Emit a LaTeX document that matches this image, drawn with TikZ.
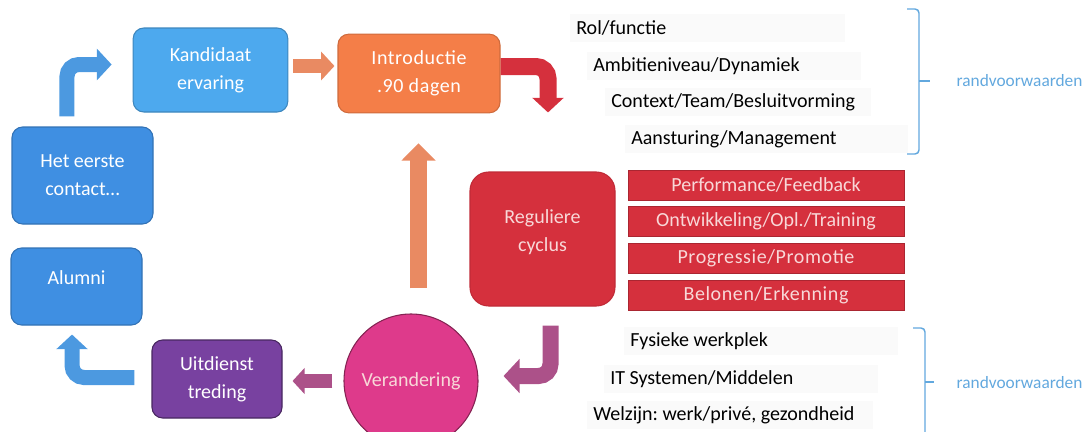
\documentclass[tikz,border=0pt]{standalone}
\usepackage{fontspec}
\setmainfont{Carlito}
\usepackage{tikz}
\usetikzlibrary{arrows.meta,calc}
\definecolor{lblue}{HTML}{4DA9EE}
\definecolor{mblue}{HTML}{3F8FE2}
\definecolor{ablue}{HTML}{4C99E0}
\definecolor{orng}{HTML}{F47E48}
\definecolor{aorng}{HTML}{E98A62}
\definecolor{rd}{HTML}{D5303D}
\definecolor{prpl}{HTML}{7841A0}
\definecolor{aprpl}{HTML}{AC5189}
\definecolor{mgnt}{HTML}{DE3A8B}
\definecolor{brc}{HTML}{62A8DE}
\definecolor{pinktxt}{HTML}{F8D8D8}

\begin{document}
\begin{tikzpicture}
  [x=0.75pt,y=-0.75pt,
   every node/.style={font=\fontsize{15}{21}\selectfont},
   box/.style={rectangle,rounded corners=8pt,align=center,text=white,line width=0.8pt},
   row/.style={anchor=west,fill=black!2,minimum height=21pt,inner xsep=4.5pt,align=flush left,font=\fontsize{15}{21}\selectfont\frenchspacing},
   bar/.style={fill=rd,draw=rd!80!black,line width=0.6pt,minimum width=207pt,minimum height=22.5pt,inner sep=0pt,text=pinktxt},
   brace/.style={brc,line width=1.1pt,rounded corners=3pt},
   flow/.style={line width=11.25pt,rounded corners=9pt,-{Triangle[length=11pt,width=23pt]}}]
  \useasboundingbox (0,0) rectangle (1086,432);

  \node[box,fill=lblue,draw=lblue!80!black,minimum width=116pt,minimum height=63pt] (kand) at (210.5,70) {Kandidaat\\ervaring};
  \node[box,fill=orng,draw=orng!85!black,minimum width=121.5pt,minimum height=59pt,font={\fontsize{15}{21}\selectfont\addfontfeature{LetterSpace=3}}] (intro) at (419,73.5) {Introductie\\.90 dagen};
  \node[box,fill=mblue,draw=mblue!80!black,minimum width=105.75pt,minimum height=72.75pt] (het) at (82.5,175.5) {Het eerste\\contact…};
  \node[box,fill=mblue,draw=mblue!80!black,minimum width=98.25pt,minimum height=57.75pt,text depth=14pt] (alumni) at (76.5,286.5) {Alumni};
  \node[box,fill=prpl,draw=prpl!60!black,minimum width=97.5pt,minimum height=58.5pt] (uit) at (217,379) {Uitdienst\\treding};
  \node[circle,fill=mgnt,draw=mgnt!60!black,line width=0.8pt,minimum size=100.5pt,text=pinktxt] (ver) at (411,381) {Verandering};
  \node[box,rounded corners=14pt,fill=rd,draw=rd!90!black,minimum width=108.75pt,minimum height=100.5pt,text=pinktxt,text depth=12pt] (reg) at (542.5,239) {Reguliere\\cyclus};

  \node[bar] (b1) at (766,185) {Performance/Feedback};
  \node[bar] (b2) at (766,221.5) {Ontwikkeling/Opl./Training};
  \node[bar,font={\fontsize{15}{21}\selectfont\addfontfeature{LetterSpace=3}}] (b3) at (766,258) {Progressie/Promotie};
  \node[bar,font={\fontsize{15}{21}\selectfont\addfontfeature{LetterSpace=3}}] (b4) at (766,295) {Belonen/Erkenning};

  \node[row,text width=197pt] (r1) at (570,28) {Rol/functie};
  \node[row,text width=196pt] (r2) at (587,66) {Ambitieniveau/Dynamiek};
  \node[row,text width=190.5pt] (r3) at (605,102) {Context/Team/Besluitvorming};
  \node[row,text width=203pt] (r4) at (625,139) {Aansturing/Management};
  \node[row,text width=196pt] (r5) at (624,341) {Fysieke werkplek};
  \node[row,text width=196pt] (r6) at (604,379) {IT Systemen/Middelen};
  \node[row,text width=205pt] (r7) at (587,415) {Welzijn: werk/privé, gezondheid};

  \node[anchor=west,text=brc,font=\fontsize{13}{15}\selectfont] (rv1) at (952,81) {randvoorwaarden};
  \node[anchor=west,text=brc,font=\fontsize{13}{15}\selectfont] (rv2) at (952,383) {randvoorwaarden};

  \draw[brace] (907,9) -- (919,9) -- (919,154) -- (907,154);
  \draw[brace] (919,81) -- (930,81);
  \draw[brace] (913,328) -- (925,328) -- (925,445);
  \draw[brace] (925,382) -- (934,382);

  \draw[flow,ablue] ($(het.north west)+(55.5,-10)$) |- ($(kand.west)+(-21,-5.5)$);
  \draw[flow,aorng,line width=11pt,-{Triangle[length=10pt,width=21pt]}] ($(kand.east)+(5,-4)$) -- ($(intro.west)+(-3,-7.5)$);
  \draw[flow,rd,line width=12.75pt] ($(intro.east)+(0,-7)$) -| ($(reg.north)+(5.5,-59)$);
  \draw[flow,aorng,line width=12.75pt,-{Triangle[length=13pt,width=25pt]}] ($(ver.north)+(7.5,-25)$) -- ($(intro.south)+(-0.5,30)$);
  \draw[flow,aprpl,line width=12pt,-{Triangle[length=12pt,width=25pt]}] ($(reg.south)+(8,19)$) |- ($(ver.east)+(25,-5)$);
  \draw[flow,aprpl,line width=10.5pt,-{Triangle[length=9pt,width=19pt]}] ($(ver.west)+(-11,0)$) -- ($(uit.east)+(10,2)$);
  \draw[flow,ablue] ($(uit.west)+(-17,-1.5)$) -| ($(alumni.south)+(-4.5,9)$);
\end{tikzpicture}
\end{document}
